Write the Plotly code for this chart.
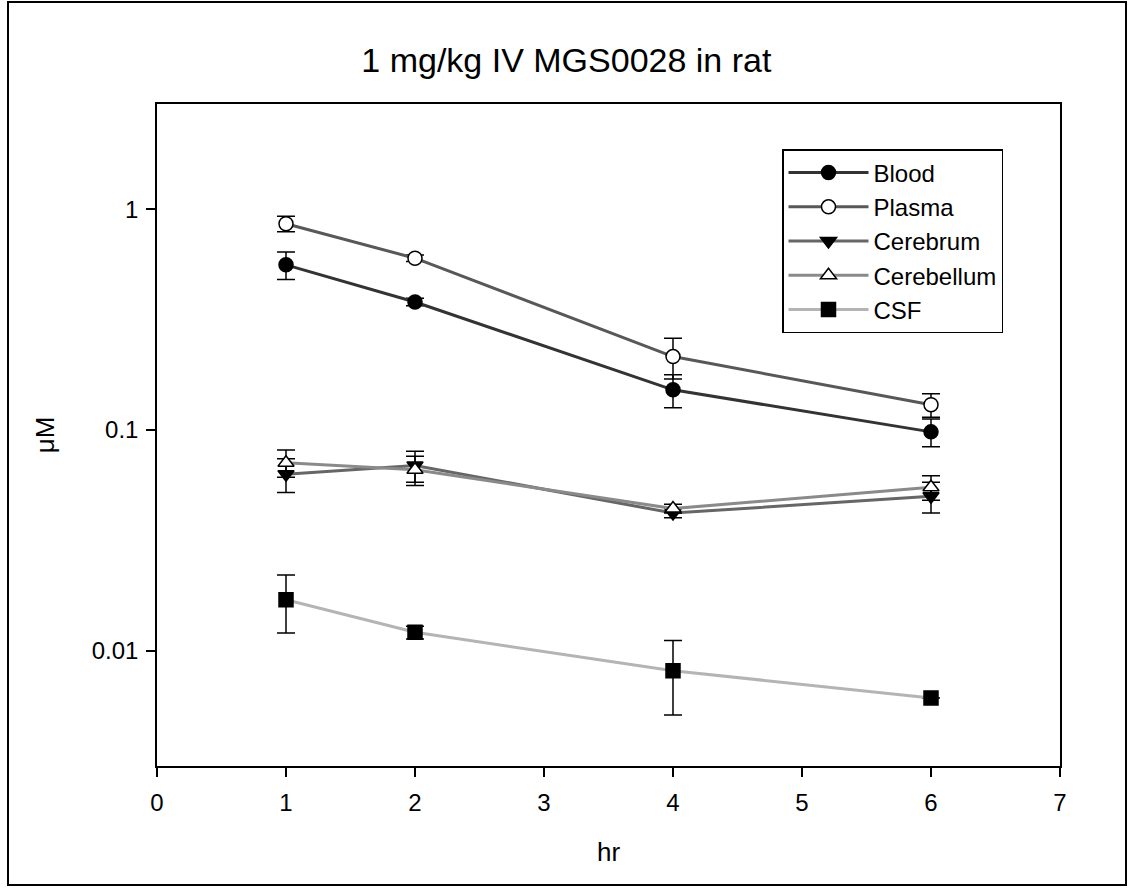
import plotly.graph_objects as go

hours = [1, 2, 4, 6]

blood = [0.56, 0.38, 0.152, 0.098]
blood_err = [0.08, 0.015, 0.026, 0.014]
plasma = [0.86, 0.60, 0.215, 0.130]
plasma_err = [0.07, 0.02, 0.045, 0.016]
cerebrum = [0.063, 0.069, 0.042, 0.050]
cerebrum_err = [0.011, 0.011, 0.002, 0.008]
cerebellum = [0.071, 0.066, 0.044, 0.055]
cerebellum_err = [0.010, 0.010, 0.002, 0.007]
csf = [0.017, 0.0121, 0.0081, 0.0061]
csf_err = [0.005, 0.0008, 0.003, 0.0]

series = [
    ("Blood", blood, blood_err, "#333333", "circle", "black"),
    ("Plasma", plasma, plasma_err, "#585858", "circle", "white"),
    ("Cerebrum", cerebrum, cerebrum_err, "#666666", "triangle-down", "black"),
    ("Cerebellum", cerebellum, cerebellum_err, "#8a8a8a", "triangle-up", "white"),
    ("CSF", csf, csf_err, "#b4b4b4", "square", "black"),
]

FONT = "Arial, Liberation Sans, sans-serif"

fig = go.Figure()
for name, vals, errs, lc, sym, fill in series:
    fig.add_trace(go.Scatter(
        x=hours, y=vals, name=name, mode="lines+markers",
        line=dict(color=lc, width=3),
        marker=dict(symbol=sym, size=14, color=fill,
                    line=dict(color="black", width=1.5)),
        error_y=dict(type="data", array=errs, visible=True,
                     color="black", thickness=1.5, width=9),
    ))

W, H = 1134, 888
L, R, T, B = 157, 74, 104, 122
pw, ph = W - L - R, H - T - B

def px_x(x):
    return (x - L) / pw

def px_y(y):
    return (H - B - y) / ph

fig.add_shape(type="rect", xref="paper", yref="paper",
              x0=px_x(8), x1=px_x(1126), y0=px_y(885), y1=px_y(2),
              line=dict(color="black", width=2), layer="below")

fig.update_layout(
    width=W, height=H,
    margin=dict(l=L, r=R, t=T, b=B),
    paper_bgcolor="white", plot_bgcolor="white",
    font=dict(family=FONT, color="black", size=22),
    title=dict(text="1 mg/kg IV MGS0028 in rat", x=px_x(608), xanchor="center",
               y=1 - 60 / H, yanchor="middle",
               font=dict(size=34, family=FONT, color="black")),
    showlegend=True,
    legend=dict(x=px_x(782), y=px_y(149), xanchor="left", yanchor="top",
                bordercolor="black", borderwidth=1.5, bgcolor="white",
                font=dict(size=24, family=FONT, color="black"),
                itemwidth=80, tracegroupgap=0,
                entrywidth=150, entrywidthmode="pixels"),
    xaxis=dict(range=[0, 7], tickvals=[0, 1, 2, 3, 4, 5, 6, 7],
               showgrid=False, zeroline=False, showline=True, mirror=True,
               linecolor="black", linewidth=1.5, ticks="outside", ticklen=9,
               tickwidth=1.5, tickcolor="black", ticklabelstandoff=5,
               tickfont=dict(size=24, family=FONT),
               title=dict(text="hr", font=dict(size=26, family=FONT), standoff=28)),
    yaxis=dict(type="log", range=[-2.523, 0.477],
               tickvals=[0.01, 0.1, 1], ticktext=["0.01", "0.1", "1"],
               showgrid=False, zeroline=False, showline=True, mirror=True,
               linecolor="black", linewidth=1.5, ticks="outside", ticklen=9,
               tickwidth=1.5, tickcolor="black", ticklabelstandoff=3,
               tickfont=dict(size=24, family=FONT),
               title=dict(text="μM", font=dict(size=26, family=FONT), standoff=30)),
)

fig.write_html("out.html")
